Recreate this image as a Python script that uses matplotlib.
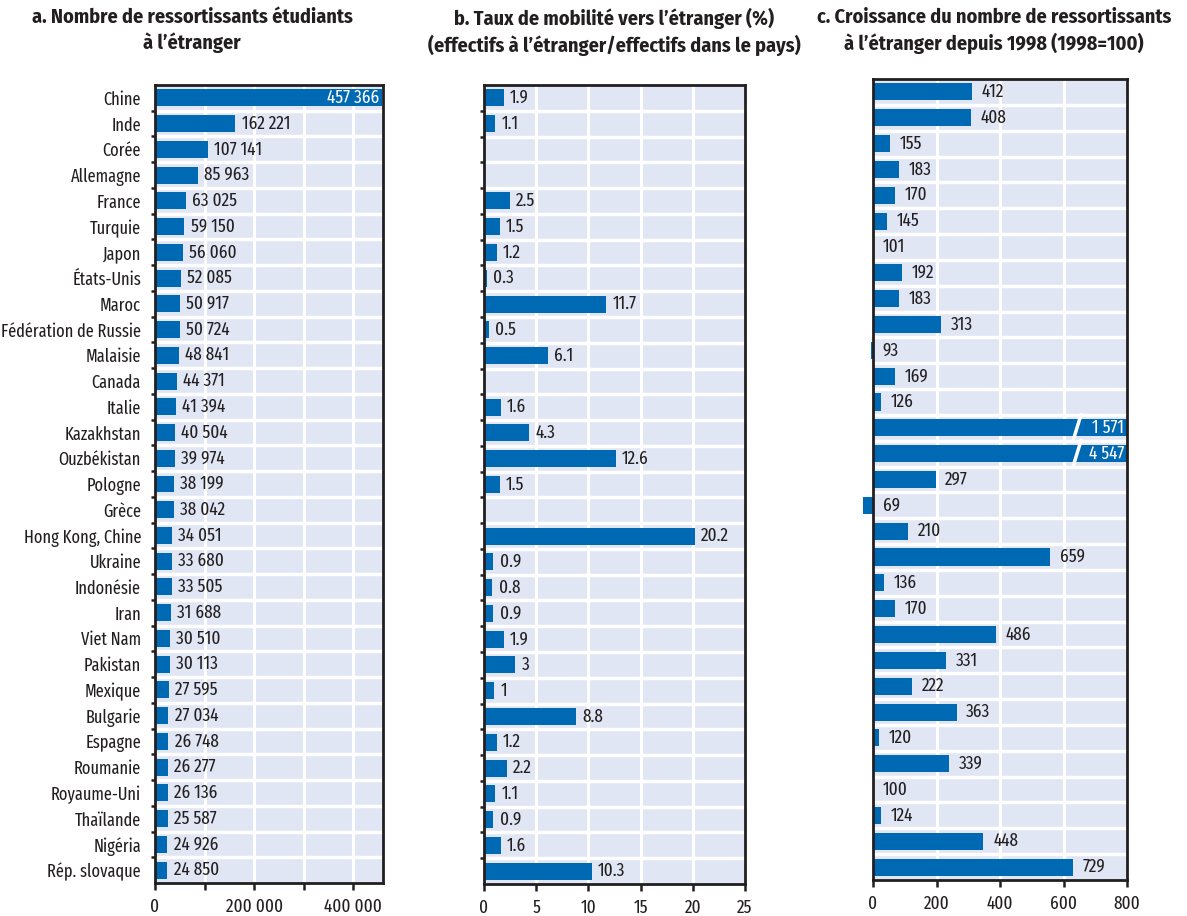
import numpy as np
import matplotlib.pyplot as plt
from matplotlib import font_manager
from matplotlib.ticker import MultipleLocator, FuncFormatter

noms = {f.name for f in font_manager.fontManager.ttflist}


def choisir(liste):
    return next((p for p in liste if p in noms), 'DejaVu Sans')


police = choisir(['Fira Sans Extra Condensed', 'Fira Sans Condensed', 'PT Sans Narrow',
                  'Roboto Condensed', 'Liberation Sans Narrow'])
police_titre = choisir(['Fira Sans Condensed', 'PT Sans Narrow', 'Roboto Condensed',
                        'Liberation Sans Narrow'])
plt.rcParams['font.family'] = [police, 'DejaVu Sans']

pays = ["Chine", "Inde", "Corée", "Allemagne", "France", "Turquie", "Japon",
        "États-Unis", "Maroc", "Fédération de Russie", "Malaisie", "Canada",
        "Italie", "Kazakhstan", "Ouzbékistan", "Pologne", "Grèce",
        "Hong Kong, Chine", "Ukraine", "Indonésie", "Iran", "Viet Nam",
        "Pakistan", "Mexique", "Bulgarie", "Espagne", "Roumanie",
        "Royaume-Uni", "Thaïlande", "Nigéria", "Rép. slovaque"]
effectifs = [457366, 162221, 107141, 85963, 63025, 59150, 56060, 52085, 50917,
             50724, 48841, 44371, 41394, 40504, 39974, 38199, 38042, 34051,
             33680, 33505, 31688, 30510, 30113, 27595, 27034, 26748, 26277,
             26136, 25587, 24926, 24850]
taux = [1.9, 1.1, None, None, 2.5, 1.5, 1.2, 0.3, 11.7, 0.5, 6.1, None, 1.6,
        4.3, 12.6, 1.5, None, 20.2, 0.9, 0.8, 0.9, 1.9, 3, 1, 8.8, 1.2, 2.2,
        1.1, 0.9, 1.6, 10.3]
croissance = [412, 408, 155, 183, 170, 145, 101, 192, 183, 313, 93, 169, 126,
              1571, 4547, 297, 69, 210, 659, 136, 170, 486, 331, 222, 363, 120,
              339, 100, 124, 448, 729]

titres = ["a. Nombre de ressortissants étudiants\nà l’étranger",
          "b. Taux de mobilité vers l’étranger (%)\n(effectifs à l’étranger/effectifs dans le pays)",
          "c. Croissance du nombre de ressortissants\nà l’étranger depuis 1998 (1998=100)"]

bleu = '#0069b4'
fond = '#e1e6f4'
encre = '#231f20'
W, H = 1187, 916
n = len(pays)
y = np.arange(n)
fs = 13.5

fig = plt.figure(figsize=(W / 100, H / 100), dpi=100)


def px_axes(l, r, t, b):
    return fig.add_axes([l / W, 1 - b / H, (r - l) / W, (b - t) / H])


def style(ax, xmax, major, minor, fmt, yticks=True):
    ax.set_facecolor(fond)
    ax.set_xlim(0, xmax)
    ax.set_ylim(n - 0.5, -0.5)
    for s in ax.spines.values():
        s.set_linewidth(2)
        s.set_color(encre)
    ax.xaxis.set_major_locator(MultipleLocator(major))
    ax.xaxis.set_minor_locator(MultipleLocator(minor))
    ax.xaxis.set_major_formatter(FuncFormatter(fmt))
    ax.tick_params(axis='x', which='both', length=5, width=1.8, color=encre,
                   labelsize=fs, pad=6, labelcolor=encre)
    for gx in np.arange(minor, xmax, minor):
        ax.axvline(gx, color='white', lw=2.2, zorder=0.5)
    for gy in np.arange(0.5, n - 1, 1):
        ax.axhline(gy, color='white', lw=2.5, zorder=0.5)
    ax.set_yticks(y)
    ax.set_yticks(np.arange(0.5, n - 1, 1), minor=True)
    ax.tick_params(axis='y', which='major', length=0, labelsize=12.8, pad=10,
                   labelcolor=encre)
    ax.tick_params(axis='y', which='minor', length=3 if yticks else 0,
                   width=1.8, color=encre)


def milliers(v, pos=None):
    return f"{int(v):,}".replace(',', ' ')


# a
ax1 = px_axes(155, 383, 85, 883)
style(ax1, 460000, 200000, 100000, milliers)
ax1.set_yticklabels(pays)
ax1.barh(y, effectifs, height=0.66, color=bleu, zorder=2)
for i, v in enumerate(effectifs):
    if v > 400000:
        ax1.annotate(milliers(v), (v, i), xytext=(-2, 0), textcoords='offset points',
                     ha='right', va='center', color='white', fontsize=fs, zorder=3)
    else:
        ax1.annotate(milliers(v), (v, i), xytext=(4.5, 0), textcoords='offset points',
                     ha='left', va='center', color=encre, fontsize=fs, zorder=3)

# b
ax2 = px_axes(484, 745, 85, 884)
style(ax2, 25, 5, 5, lambda v, p: f"{v:g}")
ax2.set_yticklabels([])
for i, v in enumerate(taux):
    if v is None:
        continue
    ax2.barh(i, v, height=0.66, color=bleu, zorder=2)
    ax2.annotate(f"{v:g}", (v, i), xytext=(4.5, 0), textcoords='offset points',
                 ha='left', va='center', color=encre, fontsize=fs, zorder=3)

# c
ax3 = px_axes(873, 1127, 79, 880)
style(ax3, 800, 200, 200, lambda v, p: f"{v:g}", yticks=False)
ax3.set_yticklabels([])
for i, v in enumerate(croissance):
    val = v - 100
    if val > 800:
        ax3.barh(i, 800, height=0.66, color=bleu, zorder=2)
        ax3.annotate(milliers(v), (800, i), xytext=(-2, 0), textcoords='offset points',
                     ha='right', va='center', color='white', fontsize=fs, zorder=3)
        ax3.plot([655, 630], [i - 0.5, i + 0.5], color='white', lw=2.5,
                 zorder=4, clip_on=False)
    else:
        ax3.barh(i, val, height=0.66, color=bleu, zorder=2, clip_on=False)
        ax3.annotate(str(v), (max(val, 0), i), xytext=(7, 0), textcoords='offset points',
                     ha='left', va='center', color=encre, fontsize=fs, zorder=3)

for xc, t in zip([192, 614, 994], titres):
    fig.text(xc / W, 1 - 8 / H, t, ha='center', va='top', fontsize=14.5,
             fontweight='bold', color=encre, linespacing=1.3,
             family=[police_titre, 'DejaVu Sans'])

fig.savefig('out.png', dpi=100)
